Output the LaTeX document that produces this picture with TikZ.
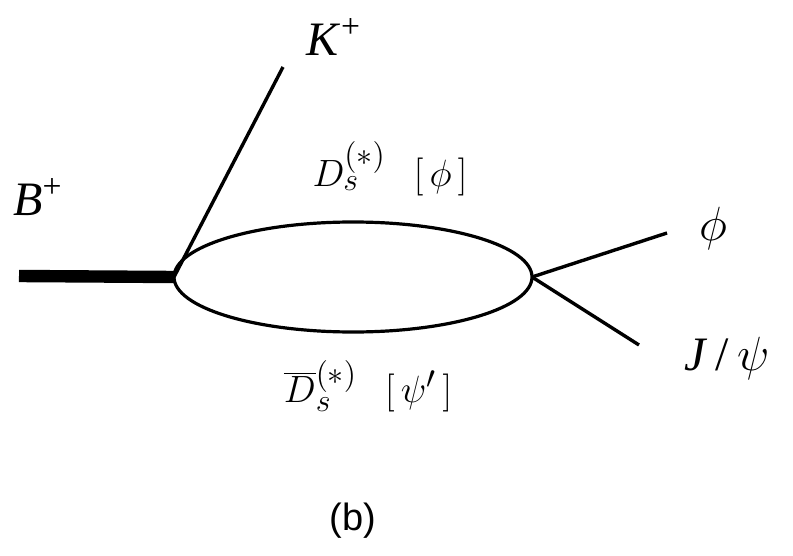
\documentclass[tikz,border=0pt]{standalone}
\usepackage{fix-cm}
\usepackage{fontspec}
\setmainfont{Liberation Serif}
\newfontfamily\capfont{Liberation Sans}
\DeclareMathSizes{19}{19}{16}{13}
\usetikzlibrary{shapes.geometric}
\tikzset{
  prop/.style={line width=1.7pt},
  heavy/.style={line width=6.2pt},
  lbl/.style={inner sep=0pt, font=\fontsize{24}{28}\selectfont},
  dlbl/.style={inner sep=0pt, font=\fontsize{19}{22}\selectfont},
}
\begin{document}
\begin{tikzpicture}[x=0.5pt,y=-0.5pt]
\useasboundingbox (0,0) rectangle (793,556);
\node[draw, ellipse, line width=1.6pt, minimum width=179pt, minimum height=55pt, inner sep=0pt, outer sep=0pt] (loop) at (353,277) {};
\coordinate (bin) at (19,276);
\coordinate (kend) at (283,67);
\coordinate (phiend) at (667,233);
\coordinate (psiend) at (639,345);
\draw[heavy] (bin) -- (loop.west);
\draw[prop] (loop.west) -- (kend);
\draw[prop] (loop.east) -- (phiend);
\draw[prop] (loop.east) -- (psiend);
\node[lbl] (B) at (38,197) {\textit{B}\textsuperscript{+}};
\node[lbl] (K) at (334,37) {\textit{K}\textsuperscript{+}};
\node[lbl] (phi) at (713,229) {$\phi$};
\node[lbl] (psi) at (727,358) {\textit{J}\,/\,$\psi$};
\node[dlbl] (Ds) at (390,169) {$D_s^{(*)}\hspace{14pt}[\,\phi\,]$};
\node[dlbl] (Dsb) at (368,386) {$\overline{D}_s^{(*)}\hspace{14pt}[\,\psi'\,]$};
\node[inner sep=0pt, font=\capfont\fontsize{19}{22}\selectfont] (cap) at (353,521) {(b)};
\end{tikzpicture}
\end{document}
